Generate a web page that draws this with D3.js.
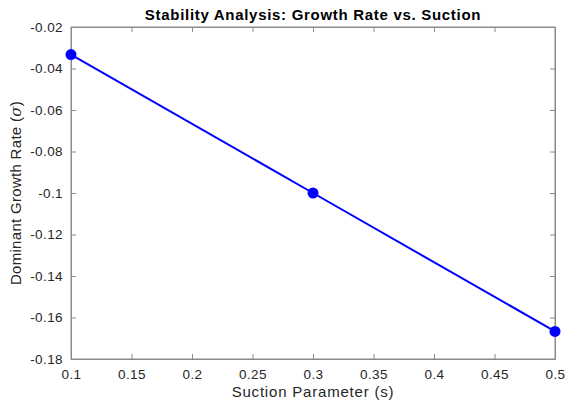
<!DOCTYPE html>
<html><head><meta charset="utf-8">
<script src="https://cdn.jsdelivr.net/npm/d3@7"></script>
<style>body{margin:0;background:#fff}svg{display:block}</style>
</head><body>
<script>
const sValues = [0.1, 0.3, 0.5];
const growthRates = [-0.0333, -0.1, -0.1667];
const xTicks = [0.1, 0.15, 0.2, 0.25, 0.3, 0.35, 0.4, 0.45, 0.5];
const yTicks = [-0.02, -0.04, -0.06, -0.08, -0.1, -0.12, -0.14, -0.16, -0.18];

const W = 566, H = 403;
const m = {l: 71, r: 11, t: 27, b: 44};
const svg = d3.select("body").append("svg").attr("width", W).attr("height", H);
const x = d3.scaleLinear().domain([0.1, 0.5]).range([m.l, W - m.r]);
const y = d3.scaleLinear().domain([-0.18, -0.02]).range([H - m.b, m.t]);
const font = "'Liberation Sans', Arial, Helvetica, sans-serif";
const axisColor = "#8a8a8a", textColor = "#262626";

svg.append("rect").attr("x", m.l).attr("y", m.t).attr("width", W - m.r - m.l).attr("height", H - m.b - m.t)
  .attr("fill", "none").attr("stroke", axisColor).attr("stroke-width", 1);

const gx = svg.append("g").attr("transform", `translate(0,${H - m.b})`)
  .call(d3.axisBottom(x).tickValues(xTicks).tickSizeInner(-5).tickSizeOuter(0).tickPadding(10).tickFormat(d => String(+d.toFixed(2))));
const gxt = svg.append("g").attr("transform", `translate(0,${m.t})`)
  .call(d3.axisTop(x).tickValues(xTicks).tickSizeInner(-5).tickSizeOuter(0).tickFormat(""));
const gy = svg.append("g").attr("transform", `translate(${m.l},0)`)
  .call(d3.axisLeft(y).tickValues(yTicks).tickSizeInner(-5).tickSizeOuter(0).tickPadding(8).tickFormat(d => String(+d.toFixed(2))));
const gyr = svg.append("g").attr("transform", `translate(${W - m.r},0)`)
  .call(d3.axisRight(y).tickValues(yTicks).tickSizeInner(-5).tickSizeOuter(0).tickFormat(""));
[gx, gxt, gy, gyr].forEach(g => {
  g.select(".domain").attr("stroke", axisColor);
  g.selectAll(".tick line").attr("stroke", axisColor);
  g.selectAll("text").attr("fill", textColor).style("font-family", font).style("font-size", "13.5px").style("letter-spacing", "0.4px");
});

const line = d3.line().x((d, i) => x(sValues[i])).y(d => y(d));
svg.append("path").datum(growthRates).attr("d", line).attr("fill", "none").attr("stroke", "#0000ff").attr("stroke-width", 2);
svg.selectAll("circle.pt").data(growthRates).enter().append("circle")
  .attr("cx", (d, i) => x(sValues[i])).attr("cy", d => y(d)).attr("r", 5.5).attr("fill", "#0000ff");

svg.append("text").attr("x", (m.l + W - m.r) / 2).attr("y", 20).attr("text-anchor", "middle")
  .style("font-family", font).style("font-size", "15px").style("font-weight", "bold").style("letter-spacing", "0.7px").attr("fill", "#000")
  .text("Stability Analysis: Growth Rate vs. Suction");
svg.append("text").attr("x", (m.l + W - m.r) / 2).attr("y", 397).attr("text-anchor", "middle")
  .style("font-family", font).style("font-size", "15px").style("letter-spacing", "0.8px").attr("fill", textColor)
  .text("Suction Parameter (s)");
const yl = svg.append("text").attr("transform", `translate(21,${(m.t + H - m.b) / 2}) rotate(-90)`).attr("text-anchor", "middle")
  .style("font-family", font).style("font-size", "15px").style("letter-spacing", "0.3px").attr("fill", textColor);
yl.append("tspan").text("Dominant Growth Rate (");
yl.append("tspan").style("font-style", "italic").style("font-family", "'DejaVu Serif', serif").text("σ");
yl.append("tspan").text(")");
</script>
</body></html>
